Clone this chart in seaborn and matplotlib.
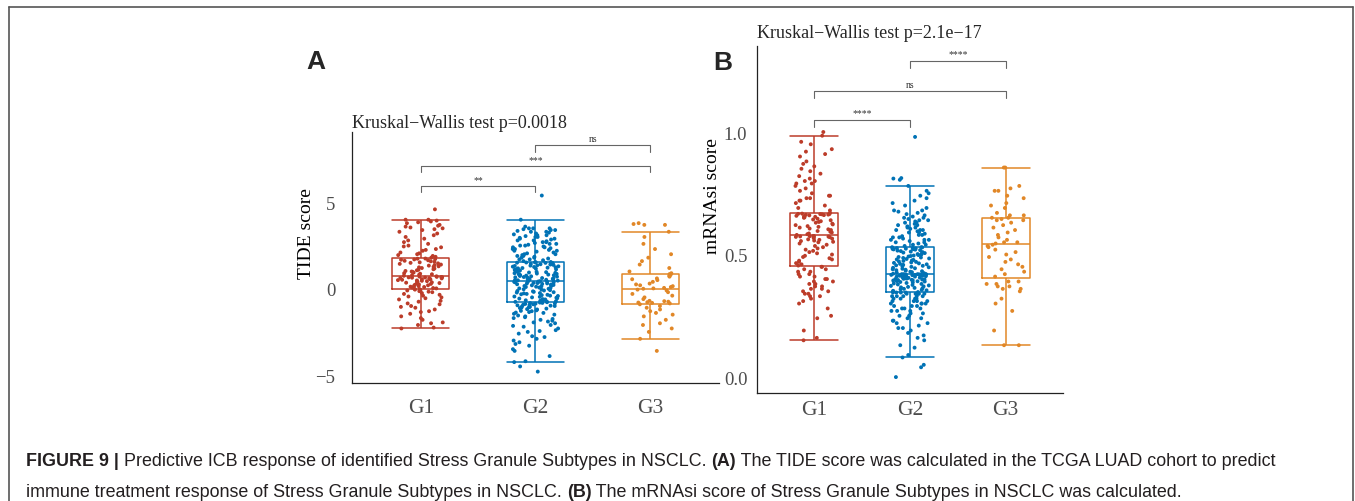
from matplotlib import pyplot as plt
import numpy as np
import pandas as pd
import seaborn as sns

W, H = 1355, 502

groups = ["G1", "G2", "G3"]
colors = ["#BC3C29", "#0072B5", "#E18727"]

# Panel A : TIDE score per subtype
tide_g1 = [-2.3, -2.25, -2.1, -2.0, -1.95, -1.8, -1.7, -1.6, -1.45, -1.35, -1.3, -1.2, -1.1, -1.05, -1.0,
           -0.9, -0.85, -0.75, -0.7, -0.62, -0.55, -0.5, -0.45, -0.4, -0.35, -0.3, -0.25, -0.2, -0.17,
           -0.14, -0.1, -0.08, -0.05, -0.03, -0.01,
           0.02, 0.04, 0.07, 0.1, 0.12, 0.15, 0.17, 0.2, 0.23, 0.25, 0.28, 0.3, 0.33, 0.35, 0.37, 0.4,
           0.42, 0.44, 0.46, 0.48, 0.5, 0.52, 0.54, 0.56, 0.58, 0.6, 0.61, 0.62, 0.64, 0.65, 0.66, 0.67,
           0.68, 0.69, 0.7,
           0.72, 0.75, 0.78, 0.81, 0.84, 0.87, 0.9, 0.94, 0.97, 1.0, 1.03, 1.07, 1.1, 1.13, 1.17, 1.2,
           1.24, 1.27, 1.3, 1.34, 1.37, 1.4, 1.44, 1.47, 1.5, 1.53, 1.56, 1.59, 1.62, 1.65, 1.68, 1.7,
           1.72, 1.74, 1.75,
           1.8, 1.85, 1.9, 1.95, 2.0, 2.05, 2.1, 2.2, 2.25, 2.3, 2.4, 2.45, 2.5, 2.6, 2.7, 2.8, 2.9,
           3.0, 3.1, 3.2, 3.3, 3.4, 3.45, 3.5, 3.55, 3.6, 3.65, 3.7, 3.8, 3.85, 3.9, 3.95, 4.0, 4.0, 4.6]
tide_g2 = [-4.8, -4.5, -4.25, -4.2, -3.9, -3.6, -3.5, -3.3, -3.2, -3.1, -3.0, -2.9, -2.8, -2.75, -2.6,
           -2.5, -2.45, -2.4, -2.3, -2.2, -2.15, -2.1, -2.0, -1.95, -1.9, -1.85, -1.8, -1.75, -1.7, -1.65,
           -1.6, -1.55, -1.5, -1.45, -1.4, -1.38, -1.35, -1.3, -1.28, -1.25, -1.2, -1.18, -1.15, -1.12,
           -1.1, -1.08, -1.05, -1.02, -1.0, -0.98, -0.96, -0.94, -0.92, -0.9, -0.88, -0.86, -0.85, -0.83,
           -0.82, -0.8,
           -0.78, -0.76, -0.74, -0.72, -0.7, -0.67, -0.65, -0.62, -0.6, -0.57, -0.55, -0.52, -0.5, -0.47,
           -0.45, -0.42, -0.4, -0.37, -0.35, -0.32, -0.3, -0.27, -0.25, -0.22, -0.2, -0.18, -0.15, -0.13,
           -0.1, -0.08, -0.05, -0.03, 0.0, 0.02, 0.05, 0.07, 0.1, 0.12, 0.14, 0.16, 0.18, 0.2, 0.22, 0.24,
           0.26, 0.28, 0.3, 0.31, 0.33, 0.34, 0.36, 0.37, 0.38, 0.39, 0.4, 0.41, 0.42, 0.43, 0.44, 0.45,
           0.47, 0.49, 0.5, 0.52, 0.54, 0.55, 0.57, 0.59, 0.6, 0.62, 0.64, 0.66, 0.68, 0.7, 0.72, 0.74,
           0.76, 0.78, 0.8, 0.82, 0.84, 0.86, 0.88, 0.9, 0.92, 0.94, 0.96, 0.98, 1.0, 1.02, 1.04, 1.06,
           1.08, 1.1, 1.12, 1.14, 1.16, 1.18, 1.2, 1.22, 1.24, 1.26, 1.28, 1.3, 1.32, 1.34, 1.36, 1.38,
           1.4, 1.42, 1.44, 1.46, 1.47, 1.48, 1.5, 1.51, 1.52, 1.53, 1.54, 1.55,
           1.6, 1.65, 1.7, 1.75, 1.8, 1.85, 1.9, 1.95, 2.0, 2.05, 2.1, 2.15, 2.2, 2.25, 2.3, 2.35, 2.4,
           2.45, 2.5, 2.55, 2.6, 2.65, 2.7, 2.75, 2.8, 2.85, 2.9, 2.95, 3.0, 3.05, 3.1, 3.15, 3.2, 3.25,
           3.3, 3.35, 3.4, 3.45, 3.5, 3.0, 2.9, 2.7, 2.6, 2.4, 2.2, 2.0, 1.9, 1.7, 3.1, 3.3, 3.5, 2.8,
           2.5, 2.3, 1.8, 3.6, 3.5, 3.4, 4.0, 5.4]
tide_g3 = [-3.6, -2.9, -2.5, -2.3, -2.1, -2.0, -1.8, -1.6, -1.5, -1.4, -1.3, -1.2, -1.1, -1.0, -0.9,
           -0.85, -0.82, -0.8, -0.78, -0.75, -0.72, -0.7, -0.6, -0.5, -0.4, -0.3, -0.2, -0.1, -0.05, 0.0,
           0.02, 0.05, 0.1, 0.15, 0.2, 0.25, 0.3, 0.4, 0.5, 0.55, 0.6, 0.7, 0.75, 0.8, 0.85,
           0.9, 1.0, 1.2, 1.4, 1.6, 1.8, 2.0, 2.3, 2.6, 3.0, 3.3, 3.7, 3.75, 3.8, 3.7]

# Panel B : mRNAsi score per subtype
mrnasi_g1 = [0.15, 0.16, 0.19, 0.24, 0.25, 0.28, 0.3, 0.31, 0.32, 0.33, 0.33, 0.34, 0.34, 0.35, 0.35,
             0.36, 0.36, 0.37, 0.37, 0.38, 0.38, 0.39, 0.39, 0.4, 0.4, 0.41, 0.41, 0.42, 0.42, 0.43,
             0.43, 0.44, 0.44, 0.45, 0.45,
             0.455, 0.46, 0.465, 0.47, 0.475, 0.48, 0.485, 0.49, 0.495, 0.5, 0.505, 0.51, 0.515, 0.52,
             0.525, 0.53, 0.535, 0.54, 0.545, 0.55, 0.552, 0.555, 0.557, 0.56, 0.562, 0.565, 0.567, 0.57,
             0.571, 0.572, 0.573, 0.574, 0.575, 0.575, 0.576,
             0.58, 0.583, 0.586, 0.59, 0.593, 0.596, 0.6, 0.603, 0.606, 0.61, 0.613, 0.616, 0.62, 0.623,
             0.626, 0.63, 0.633, 0.636, 0.64, 0.643, 0.646, 0.65, 0.652, 0.654, 0.656, 0.658, 0.66,
             0.661, 0.662, 0.663, 0.664, 0.665, 0.665, 0.666, 0.667,
             0.67, 0.68, 0.69, 0.7, 0.71, 0.72, 0.72, 0.73, 0.73, 0.74, 0.75, 0.76, 0.77, 0.78, 0.79,
             0.79, 0.8, 0.8, 0.81, 0.82, 0.83, 0.84, 0.85, 0.86, 0.87, 0.88, 0.9, 0.91, 0.92, 0.93,
             0.95, 0.96, 0.985, 1.0, 0.74]
mrnasi_g2 = [0.0, 0.04, 0.05, 0.08, 0.09, 0.12, 0.13, 0.15, 0.16, 0.17, 0.18, 0.19, 0.2, 0.2, 0.21,
             0.22, 0.22, 0.23, 0.23, 0.24, 0.24, 0.25, 0.25, 0.26, 0.26, 0.27, 0.27, 0.27, 0.28, 0.28,
             0.28, 0.29, 0.29, 0.29, 0.3, 0.3, 0.3, 0.3, 0.31, 0.31, 0.31, 0.31, 0.32, 0.32, 0.32, 0.32,
             0.33, 0.33, 0.33, 0.33, 0.33, 0.34, 0.34, 0.34, 0.34, 0.34, 0.345, 0.345, 0.345, 0.345,
             0.347, 0.35, 0.352, 0.354, 0.356, 0.358, 0.36, 0.362, 0.364, 0.366, 0.368, 0.37, 0.372,
             0.374, 0.376, 0.378, 0.38, 0.382, 0.384, 0.386, 0.388, 0.39, 0.391, 0.392, 0.393, 0.394,
             0.395, 0.396, 0.397, 0.398, 0.399, 0.4, 0.401, 0.402, 0.403, 0.404, 0.405, 0.406, 0.407,
             0.408, 0.409, 0.41, 0.41, 0.411, 0.412, 0.413, 0.414, 0.415, 0.416, 0.416, 0.417, 0.417,
             0.418, 0.418, 0.419, 0.419, 0.42, 0.42, 0.42, 0.42,
             0.422, 0.424, 0.426, 0.428, 0.43, 0.432, 0.434, 0.436, 0.438, 0.44, 0.442, 0.444, 0.446,
             0.448, 0.45, 0.452, 0.454, 0.456, 0.458, 0.46, 0.462, 0.464, 0.466, 0.468, 0.47, 0.472,
             0.474, 0.476, 0.478, 0.48, 0.482, 0.484, 0.486, 0.488, 0.49, 0.492, 0.494, 0.496, 0.498,
             0.5, 0.502, 0.504, 0.506, 0.508, 0.51, 0.512, 0.514, 0.516, 0.518, 0.52, 0.521, 0.522,
             0.523, 0.524, 0.525, 0.525, 0.526, 0.527, 0.528, 0.529,
             0.53, 0.535, 0.54, 0.545, 0.55, 0.555, 0.56, 0.565, 0.57, 0.575, 0.58, 0.585, 0.59, 0.595,
             0.6, 0.605, 0.61, 0.615, 0.62, 0.625, 0.63, 0.635, 0.64, 0.645, 0.65, 0.655, 0.66, 0.665,
             0.67, 0.675, 0.68, 0.69, 0.7, 0.71, 0.72, 0.73, 0.74, 0.75, 0.76, 0.78, 0.805, 0.81, 0.812,
             0.98, 0.54, 0.56, 0.58, 0.6, 0.62, 0.55, 0.57, 0.59, 0.61, 0.63, 0.65, 0.53, 0.56, 0.6,
             0.64, 0.68]
mrnasi_g3 = [0.13, 0.13, 0.19, 0.27, 0.3, 0.32, 0.35, 0.36, 0.36, 0.37, 0.37, 0.38, 0.38, 0.39, 0.39,
             0.41, 0.42, 0.43, 0.44, 0.45, 0.46, 0.47, 0.48, 0.49, 0.5, 0.51, 0.52, 0.53, 0.535, 0.54,
             0.545, 0.55, 0.55, 0.56, 0.57, 0.58, 0.59, 0.6, 0.61, 0.62, 0.63, 0.64, 0.64, 0.645, 0.65,
             0.65, 0.66, 0.66, 0.67, 0.69, 0.7, 0.71, 0.73, 0.74, 0.76, 0.76, 0.77, 0.78, 0.855, 0.855]

tide_signif = [("G1", "G2", "**"), ("G1", "G3", "***"), ("G2", "G3", "ns")]
mrnasi_signif = [("G1", "G2", "****"), ("G1", "G3", "ns"), ("G2", "G3", "****")]

caption_line1 = [("FIGURE 9 |", True),
                 (" Predictive ICB response of identified Stress Granule Subtypes in NSCLC. ", False),
                 ("(A)", True),
                 (" The TIDE score was calculated in the TCGA LUAD cohort to predict", False)]
caption_line2 = [("immune treatment response of Stress Granule Subtypes in NSCLC. ", False),
                 ("(B)", True),
                 (" The mRNAsi score of Stress Granule Subtypes in NSCLC was calculated.", False)]

SERIF = "Liberation Serif"
SANS = "Liberation Sans"


def make_df(g1, g2, g3):
    return pd.DataFrame({"group": ["G1"] * len(g1) + ["G2"] * len(g2) + ["G3"] * len(g3),
                         "score": g1 + g2 + g3})


def add_axes_px(fig, l, t, r, b):
    return fig.add_axes([l / W, 1 - b / H, (r - l) / W, (b - t) / H])


def draw_panel(ax, df, ylim, yticks, yticklabels, ylabel, label_xy, title, title_pad,
               signif, heights, drop, text_gap, ypad, xpad):
    sns.boxplot(data=df, x="group", y="score", hue="group", order=groups, hue_order=groups,
                palette=colors, fill=False, showfliers=False, width=0.5, capwidths=0.5,
                linewidth=1.1, legend=False, ax=ax)
    sns.stripplot(data=df, x="group", y="score", hue="group", order=groups, hue_order=groups,
                  palette=colors, jitter=0.2, size=2.8, linewidth=0, legend=False, ax=ax, zorder=3)

    ax.set_xlim(-0.6, 2.6)
    ax.set_ylim(*ylim)
    ax.set_yticks(yticks)
    ax.set_yticklabels(yticklabels)
    ax.set_xlabel("")
    ax.set_ylabel(ylabel, fontsize=14, family=SERIF, color="black")
    ax.yaxis.set_label_coords(*label_xy)
    ax.yaxis.label.set_verticalalignment("center")
    ax.set_title(title, loc="left", fontsize=13, family=SERIF, pad=title_pad)

    ax.tick_params(axis="y", labelsize=13.5, labelcolor="#4D4D4D", length=3, pad=ypad,
                   color="#333333", width=0.8)
    ax.tick_params(axis="x", labelsize=15.5, labelcolor="#4D4D4D", length=3, pad=xpad,
                   color="#333333", width=0.8)
    for lab in ax.get_xticklabels() + ax.get_yticklabels():
        lab.set_family(SERIF)
    sns.despine(ax=ax)
    for side in ["left", "bottom"]:
        ax.spines[side].set_linewidth(0.9)
        ax.spines[side].set_color("#222222")

    # significance brackets
    for (a, b, lab), h in zip(signif, heights):
        xa, xb = groups.index(a), groups.index(b)
        ax.plot([xa, xa, xb, xb], [h - drop, h, h, h - drop], color="#666666", lw=0.8,
                clip_on=False)
        ax.text((xa + xb) / 2, h + text_gap, lab, ha="center", va="bottom", fontsize=7,
                family=SERIF, color="#333333")


def draw_caption(fig, x_px, y_px, runs, size):
    renderer = fig.canvas.get_renderer()
    x = x_px / W
    for txt, bold in runs:
        t = fig.text(x, 1 - y_px / H, txt, fontsize=size, family=SANS,
                     fontweight="bold" if bold else "normal", color="#231F20", va="baseline")
        bb = t.get_window_extent(renderer)
        x += bb.width / W


def main():
    sns.set_style("white")
    plt.rcParams["font.family"] = [SERIF, "DejaVu Serif"]
    np.random.seed(7)

    fig = plt.figure(figsize=(W / 100, H / 100), dpi=100)

    ax_a = add_axes_px(fig, 352, 133, 719, 384)
    draw_panel(ax_a, make_df(tide_g1, tide_g2, tide_g3), (-5.46, 9.08), [-5, 0, 5],
               ["\u22125", "0", "5"], "TIDE score", (-0.123, 0.60),
               "Kruskal\u2212Wallis test p=0.0018", 3.6, tide_signif, [5.95, 7.1, 8.3], 0.35,
               0.12, 9, 8)

    ax_b = add_axes_px(fig, 757, 47, 1063, 394)
    draw_panel(ax_b, make_df(mrnasi_g1, mrnasi_g2, mrnasi_g3), (-0.065, 1.351), [0.0, 0.5, 1.0],
               ["0.0", "0.5", "1.0"], "mRNAsi score", (-0.144, 0.57),
               "Kruskal\u2212Wallis test p=2.1e\u221217", 6.5, mrnasi_signif, [1.049, 1.167, 1.29],
               0.028, 0.01, 4, 2)

    # panel letters
    fig.text(316 / W, 1 - 69 / H, "A", fontsize=19, fontweight="bold", family=SANS,
             ha="center", va="baseline")
    fig.text(723 / W, 1 - 70 / H, "B", fontsize=19, fontweight="bold", family=SANS,
             ha="center", va="baseline")

    # frame around the figure
    frame_kw = dict(color="#555555", lw=1.2, transform=fig.transFigure, clip_on=False)
    fig.add_artist(plt.Line2D([9 / W, 9 / W], [0, 1 - 8 / H], **frame_kw))
    fig.add_artist(plt.Line2D([9 / W, 1353 / W], [1 - 8 / H, 1 - 8 / H], **frame_kw))
    fig.add_artist(plt.Line2D([1353 / W, 1353 / W], [0, 1 - 8 / H], **frame_kw))

    draw_caption(fig, 26, 466, caption_line1, 12.9)
    draw_caption(fig, 26, 497, caption_line2, 12.9)

    fig.savefig("out.png", dpi=100)


if __name__ == "__main__":
    main()
